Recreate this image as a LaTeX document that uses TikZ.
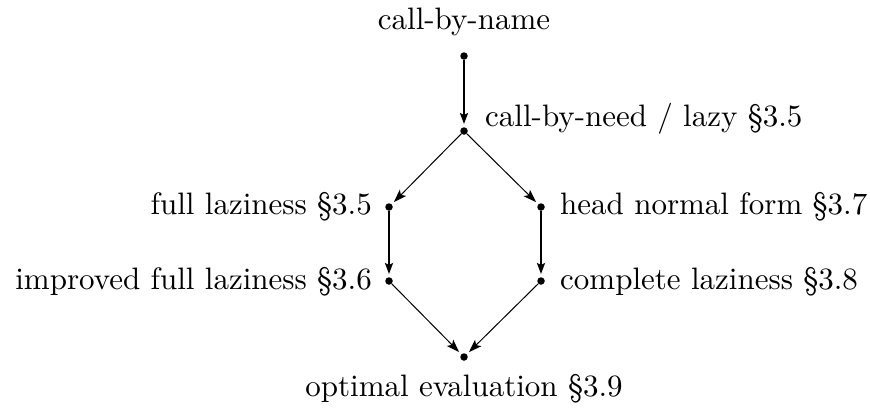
\documentclass[tikz,border=0pt]{standalone}
\usetikzlibrary{arrows.meta}
\newcommand{\bigtxt}[1]{\scalebox{3.1}{\normalsize #1}}
\begin{document}
\begin{tikzpicture}[x=1pt,y=-1pt,
  dot/.style={circle,fill=black,inner sep=0pt,minimum size=7.5pt},
  lbl/.style={inner sep=0pt},
  thick edge/.style={line width=2.4pt,-{Stealth[length=11pt,width=8pt,inset=2pt]},shorten >=3pt,shorten <=0pt},
  thin edge/.style={line width=1pt,-{Stealth[length=13pt,width=9pt,inset=3pt]},shorten >=3pt,shorten <=0pt}]
\useasboundingbox (0,0) rectangle (870,410);
\node[dot] (a) at (464,56) {};
\node[dot] (b) at (464,131) {};
\node[dot] (c) at (389,207) {};
\node[dot] (d) at (541,207) {};
\node[dot] (e) at (389,281) {};
\node[dot] (f) at (541,281) {};
\node[dot] (g) at (464,357) {};
\node[lbl,anchor=base] (la) at (464,29) {\bigtxt{call-by-name}};
\node[lbl,anchor=base west] (lb) at (485,126) {\bigtxt{call-by-need / lazy \S3.5}};
\node[lbl,anchor=base east] (lc) at (372,214) {\bigtxt{full laziness \S3.5}};
\node[lbl,anchor=base west] (ld) at (560,214) {\bigtxt{head normal form \S3.7}};
\node[lbl,anchor=base east] (le) at (372,289) {\bigtxt{improved full laziness \S3.6}};
\node[lbl,anchor=base west] (lf) at (560,289) {\bigtxt{complete laziness \S3.8}};
\node[lbl,anchor=base] (lg) at (464,396) {\bigtxt{optimal evaluation \S3.9}};
\draw[thick edge] (a) -- (b);
\draw[thin edge] (b) -- (c);
\draw[thin edge] (b) -- (d);
\draw[thick edge] (c) -- (e);
\draw[thick edge] (d) -- (f);
\draw[thin edge] (e) -- (g);
\draw[thin edge] (f) -- (g);
\end{tikzpicture}
\end{document}
